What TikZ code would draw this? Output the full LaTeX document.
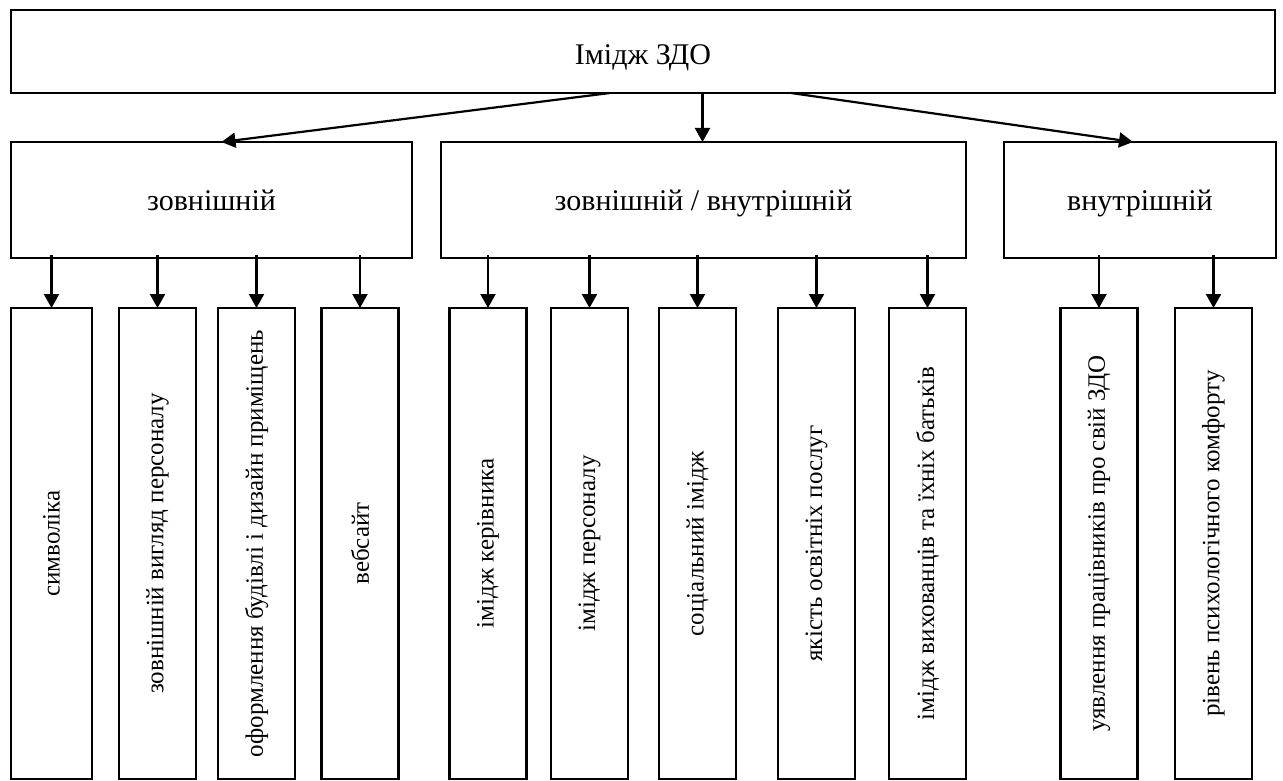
\documentclass[tikz,border=0pt]{standalone}
\usepackage{fontspec}
\setmainfont{Liberation Serif}
\usetikzlibrary{arrows.meta,calc}
\newcommand{\lowtext}[2]{\raisebox{-#1}[0pt][0pt]{#2}}
\tikzset{
  box/.style={draw, line width=2.6pt, rectangle, inner sep=0pt, outer sep=0pt},
  hbox/.style={box, font=\fontsize{30}{36}\selectfont},
  vbox/.style={box, minimum width=77pt, minimum height=471pt, font=\fontsize{25}{30}\selectfont},
  conn/.style={line width=2.2pt, -{Triangle[length=14pt,width=15pt]}}
}
\begin{document}
\begin{tikzpicture}[x=1pt,y=-1pt]
\useasboundingbox (0,0) rectangle (1283,781);
\node[hbox, minimum width=1264pt, minimum height=83pt] (top) at (643,51.5) {\lowtext{13pt}{Імідж ЗДО}};
\node[hbox, minimum width=401pt, minimum height=116pt] (ext) at (211.5,200) {\lowtext{11pt}{зовнішній}};
\node[hbox, minimum width=525pt, minimum height=116pt] (mix) at (703.5,200) {\lowtext{11pt}{зовнішній / внутрішній}};
\node[hbox, minimum width=272pt, minimum height=116pt] (int) at (1140,200) {\lowtext{11pt}{внутрішній}};

\draw[conn] ([xshift=-33pt]top.south) -- ([xshift=10pt]ext.north);
\draw[conn] ([xshift=-1pt]mix.north |- top.south) -- ([xshift=-1pt]mix.north);
\draw[conn] ([xshift=148pt]top.south) -- ([xshift=-7pt]int.north);

\node[vbox, minimum width=81pt] (b1) at (51.5,543.5) {\rotatebox{90}{символіка}};
\node[vbox] (b2) at (157.5,543.5) {\rotatebox{90}{зовнішній вигляд персоналу}};
\node[vbox] (b3) at (256.5,543.5) {\rotatebox{90}{оформлення будівлі і дизайн приміщень}};
\node[vbox] (b4) at (360,543.5) {\rotatebox{90}{вебсайт}};
\node[vbox] (b5) at (488,543.5) {\rotatebox{90}{імідж керівника}};
\node[vbox] (b6) at (589.5,543.5) {\rotatebox{90}{імідж персоналу}};
\node[vbox] (b7) at (697.5,543.5) {\rotatebox{90}{соціальний імідж}};
\node[vbox] (b8) at (816.5,543.5) {\rotatebox{90}{якість освітніх послуг}};
\node[vbox] (b9) at (927.5,543.5) {\rotatebox{90}{імідж вихованців та їхніх батьків}};
\node[vbox] (b10) at (1099,543.5) {\rotatebox{90}{уявлення працівників про свій ЗДО}};
\node[vbox] (b11) at (1213.5,543.5) {\rotatebox{90}{рівень психологічного комфорту}};

\foreach \b in {b1,b2,b3,b4} \draw[conn] ([yshift=3pt]\b.north |- ext.south) -- (\b.north);
\foreach \b in {b5,b6,b7,b8,b9} \draw[conn] ([yshift=3pt]\b.north |- mix.south) -- (\b.north);
\foreach \b in {b10,b11} \draw[conn] ([yshift=3pt]\b.north |- int.south) -- (\b.north);
\end{tikzpicture}
\end{document}
